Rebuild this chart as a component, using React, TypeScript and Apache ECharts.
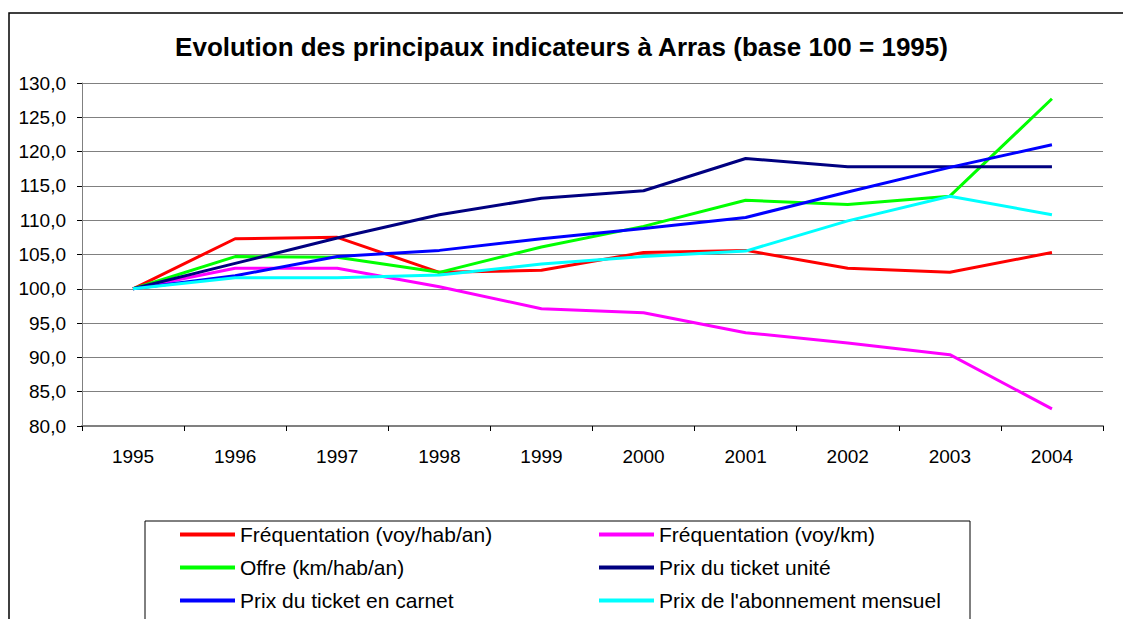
import React, { useEffect, useRef } from "react";
import * as echarts from "echarts";

const years = ["1995", "1996", "1997", "1998", "1999", "2000", "2001", "2002", "2003", "2004"];
const frequentationHab = [100, 107.3, 107.5, 102.4, 102.7, 105.3, 105.6, 103.0, 102.4, 105.3];
const frequentationKm = [100, 103.0, 103.0, 100.3, 97.1, 96.5, 93.6, 92.1, 90.4, 82.5];
const offre = [100, 104.7, 104.6, 102.4, 106.1, 109.1, 112.9, 112.3, 113.5, 127.7];
const ticketUnite = [100, 103.7, 107.4, 110.8, 113.2, 114.3, 119.0, 117.8, 117.8, 117.8];
const ticketCarnet = [100, 101.9, 104.7, 105.6, 107.3, 108.8, 110.4, 114.1, 117.7, 121.0];
const abonnement = [100, 101.6, 101.6, 102.0, 103.6, 104.7, 105.5, 109.9, 113.5, 110.8];

const seriesDefs = [
  { name: "Fréquentation (voy/hab/an)", data: frequentationHab, color: "#FF0000" },
  { name: "Fréquentation (voy/km)", data: frequentationKm, color: "#FF00FF" },
  { name: "Offre (km/hab/an)", data: offre, color: "#00FF00" },
  { name: "Prix du ticket unité", data: ticketUnite, color: "#000080" },
  { name: "Prix du ticket en carnet", data: ticketCarnet, color: "#0000FF" },
  { name: "Prix de l'abonnement mensuel", data: abonnement, color: "#00FFFF" },
];

const FONT = "'Liberation Sans', Arial, sans-serif";

export default function App() {
  const ref = useRef<HTMLDivElement>(null);
  useEffect(() => {
    if (!ref.current) return;
    const chart = echarts.init(ref.current, null, { renderer: "svg" });
    const legendCommon = {
      orient: "vertical" as const,
      icon: "rect",
      itemWidth: 55,
      itemHeight: 4,
      itemGap: 12,
      padding: 0,
      selectedMode: false,
      textStyle: { fontFamily: FONT, fontSize: 21, color: "#000" },
    };
    chart.setOption({
      animation: false,
      backgroundColor: "#fff",
      title: {
        text: "Evolution des principaux indicateurs à Arras (base 100 = 1995)",
        left: "center",
        top: 29,
        textStyle: { fontFamily: FONT, fontSize: 26, fontWeight: "bold", color: "#000" },
      },
      graphic: [
        {
          type: "rect",
          shape: { x: 9, y: 13, width: 1200, height: 700 },
          style: { fill: "none", stroke: "#000", lineWidth: 1.5 },
          silent: true,
        },
        {
          type: "rect",
          shape: { x: 145, y: 521, width: 825, height: 200 },
          style: { fill: "none", stroke: "#000", lineWidth: 1 },
          silent: true,
        },
      ],
      legend: [
        {
          ...legendCommon,
          left: 180,
          top: 524,
          data: [seriesDefs[0].name, seriesDefs[2].name, seriesDefs[4].name],
        },
        {
          ...legendCommon,
          left: 599,
          top: 524,
          data: [seriesDefs[1].name, seriesDefs[3].name, seriesDefs[5].name],
        },
      ],
      grid: { left: 82, right: 20, top: 83, bottom: 193, containLabel: false },
      xAxis: {
        type: "category",
        data: years,
        boundaryGap: true,
        axisLine: { lineStyle: { color: "#808080", width: 2 } },
        axisTick: { show: true, length: 5, lineStyle: { color: "#000" } },
        axisLabel: { fontFamily: FONT, fontSize: 19, color: "#000", margin: 21 },
        splitLine: { show: false },
      },
      yAxis: {
        type: "value",
        min: 80,
        max: 130,
        interval: 5,
        axisLine: { show: true, lineStyle: { color: "#808080", width: 1 } },
        axisTick: { show: true, length: 5, lineStyle: { color: "#000" } },
        axisLabel: {
          fontFamily: FONT,
          fontSize: 19,
          color: "#000",
          margin: 16,
          formatter: (v: number) => v.toFixed(1).replace(".", ","),
        },
        splitLine: { show: true, lineStyle: { color: "#808080", width: 1 } },
      },
      series: seriesDefs.map((s) => ({
        name: s.name,
        type: "line",
        data: s.data,
        symbol: "none",
        showSymbol: false,
        lineStyle: { color: s.color, width: 3 },
        itemStyle: { color: s.color },
        emphasis: { disabled: true },
      })),
    });
    return () => chart.dispose();
  }, []);
  return <div ref={ref} style={{ width: 1123, height: 619, position: "absolute", left: 0, top: 0 }} />;
}
